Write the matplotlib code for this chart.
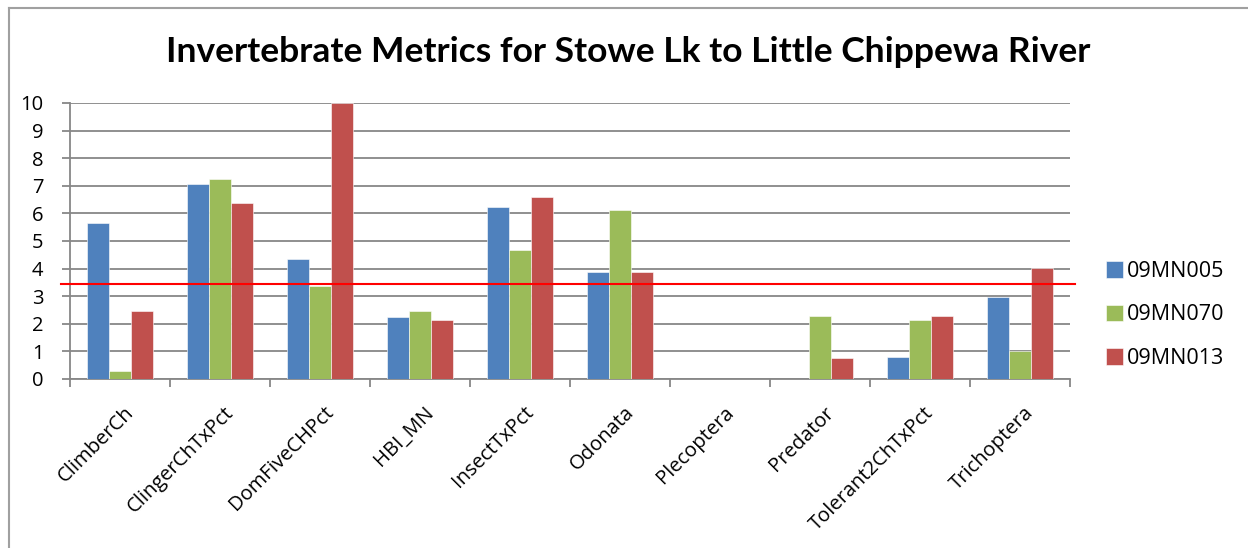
import matplotlib
matplotlib.use("Agg")
import matplotlib.pyplot as plt
import matplotlib.transforms as mtransforms
from matplotlib.lines import Line2D
import numpy as np

categories = ["ClimberCh", "ClingerChTxPct", "DomFiveCHPct", "HBI_MN", "InsectTxPct",
              "Odonata", "Plecoptera", "Predator", "Tolerant2ChTxPct", "Trichoptera"]
series_names = ["09MN005", "09MN070", "09MN013"]
site_005 = [5.66, 7.08, 4.34, 2.24, 6.24, 3.88, 0.0, 0.0, 0.81, 2.98]
site_070 = [0.29, 7.23, 3.37, 2.46, 4.67, 6.12, 0.0, 2.30, 2.12, 1.01]
site_013 = [2.46, 6.37, 10.0, 2.14, 6.58, 3.88, 0.0, 0.75, 2.30, 4.01]
threshold = 3.46
y_ticks = [0, 1, 2, 3, 4, 5, 6, 7, 8, 9, 10]
title = "Invertebrate Metrics for Stowe Lk to Little Chippewa River"

colors = ["#4F81BD", "#9BBB59", "#C0504D"]
grid_color = "#878787"
label_font = ["Open Sans", "DejaVu Sans"]

W, H = 1248, 548
fig = plt.figure(figsize=(W / 100, H / 100), dpi=100)
fig.patch.set_facecolor("white")

# plot area in pixels: x 70..1070, y 103..379 (from top)
ax = fig.add_axes([70 / W, (H - 379) / H, 1000 / W, 276 / H])

x = np.arange(len(categories))
bw = 0.222
for i, (vals, name, c) in enumerate(zip([site_005, site_070, site_013], series_names, colors)):
    ax.bar(x + (i - 1) * bw, vals, width=bw, color=c, label=name,
           edgecolor="white", linewidth=0.4, zorder=3)

ax.set_xlim(-0.5, len(categories) - 0.5)
ax.set_ylim(0, 10)
ax.set_yticks(y_ticks)
ax.set_yticklabels([str(t) for t in y_ticks], fontsize=14.5, family=label_font)
ax.yaxis.grid(True, color=grid_color, linewidth=1.3, zorder=0)
ax.set_axisbelow(True)
ax.tick_params(axis="y", length=6, width=1.3, color=grid_color, pad=13)

ax.set_xticks(x)
ax.set_xticklabels(categories, rotation=45, ha="right", va="top",
                   rotation_mode="anchor", fontsize=14.5, family=label_font)
ax.tick_params(axis="x", which="major", length=0, pad=17)
shift = mtransforms.ScaledTranslation(4 / 100, 0, fig.dpi_scale_trans)
for lbl in ax.get_xticklabels():
    lbl.set_transform(lbl.get_transform() + shift)
ax.set_xticks(np.arange(-0.5, len(categories), 1.0), minor=True)
ax.tick_params(axis="x", which="minor", length=6, width=1.3, color=grid_color)

for side in ["top", "right"]:
    ax.spines[side].set_visible(False)
for side in ["left", "bottom"]:
    ax.spines[side].set_color(grid_color)
    ax.spines[side].set_linewidth(1.3)

# reference line, running slightly past the plot area
ax.plot([-0.59, len(categories) - 0.45], [threshold, threshold], color="#FF0000",
        linewidth=1.5, clip_on=False, zorder=5)

fig.text(628 / W, 1 - 62 / H, title, ha="center", va="baseline",
         fontsize=25.5, fontweight="bold", family=["Lato", "DejaVu Sans"])

leg = ax.legend(loc="center left", bbox_to_anchor=(1106 / W, 1 - 315 / H),
                bbox_transform=fig.transFigure, frameon=False,
                prop={"family": label_font, "size": 15.5},
                handlelength=0.8, handleheight=0.8, handletextpad=0.15,
                labelspacing=1.05, borderpad=0, borderaxespad=0)

# chart border (left and top edges)
fig.add_artist(Line2D([9 / W, 9 / W], [0, 1 - 8 / H], transform=fig.transFigure,
                      color="#A0A0A0", linewidth=1.5))
fig.add_artist(Line2D([9 / W, 1], [1 - 8 / H, 1 - 8 / H], transform=fig.transFigure,
                      color="#A0A0A0", linewidth=1.5))

fig.savefig("out.png", dpi=100, facecolor="white")
